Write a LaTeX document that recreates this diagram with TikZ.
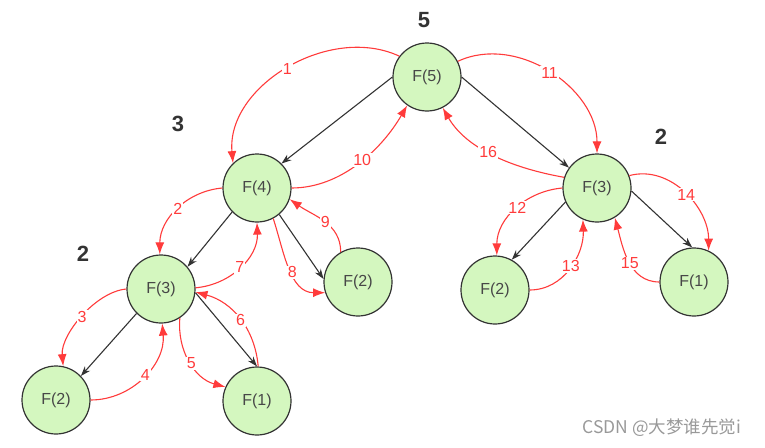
\documentclass[tikz,border=0pt]{standalone}
\usepackage{fontspec}
\setmainfont{Liberation Sans}
\newfontfamily\cjk{Noto Sans CJK SC}
\usetikzlibrary{arrows.meta}
\definecolor{nodefill}{HTML}{D4F7BF}
\definecolor{redline}{HTML}{FF3B3B}
\definecolor{darkline}{HTML}{333333}
\tikzset{
  fnode/.style={circle, draw=darkline, line width=1.2pt, fill=nodefill, minimum size=68pt, inner sep=0pt, font=\fontsize{16}{16}\selectfont, text=darkline!90},
  callarrow/.style={draw=darkline, line width=1.1pt, -{Stealth[length=10pt,width=7pt]}},
  steparrow/.style={draw=redline, line width=1.1pt, -{Latex[length=12pt,width=9pt]}},
  steplabel/.style={fill=white, text=redline, inner sep=1pt, font=\fontsize{16}{16}\selectfont},
  biglabel/.style={text=darkline, font=\fontsize{22}{22}\selectfont\bfseries},
}
\begin{document}
\begin{tikzpicture}[x=1pt,y=-1pt]
\useasboundingbox (0,0) rectangle (765,447);
\node[fnode] (f5) at (427,77) {F(5)};
\node[fnode] (f4) at (257,188) {F(4)};
\node[fnode] (f3r) at (597,188) {F(3)};
\node[fnode] (f3l) at (161,289) {F(3)};
\node[fnode] (f2m) at (358,282) {F(2)};
\node[fnode] (f2r) at (495,290) {F(2)};
\node[fnode] (f1r) at (694,282) {F(1)};
\node[fnode] (f2bl) at (56,400) {F(2)};
\node[fnode] (f1b) at (257,401) {F(1)};

\node[biglabel] (l5) at (424,20) {5};
\node[biglabel] (l3) at (178,124) {3};
\node[biglabel] (l2r) at (661,137) {2};
\node[biglabel] (l2l) at (83,254) {2};

\node[text=black!40, font=\cjk\fontsize{17.5}{17.5}\selectfont] (wm) at (662,428) {CSDN @大梦谁先觉i};

% call arrows
\draw[callarrow] (f5.180) -- (f4.45);
\draw[callarrow] (f5.0) -- (f3r.144);
\draw[callarrow] (f4.224) -- (f3l.40);
\draw[callarrow] (f4.-50) -- (f2m.175);
\draw[callarrow] (f3l.225) -- (f2bl.44);
\draw[callarrow] (f3l.-6) -- (f1b.90);
\draw[callarrow] (f3r.204) -- (f2r.61);
\draw[callarrow] (f3r.-5) -- (f1r.93);

% step arrows
\draw[steparrow] (f5.143) to[out=155,in=95] node[steplabel, pos=0.5] {1} (f4.134);
\draw[steparrow] (f4.180) to[out=185,in=90] node[steplabel, pos=0.5] {2} (f3l.92);
\draw[steparrow] (f3l.180) to[out=185,in=95,looseness=0.8] node[steplabel, pos=0.5] {3} (f2bl.78);
\draw[steparrow] (f2bl.0) to[out=0,in=-85] node[steplabel, pos=0.53] {4} (f3l.-88);
\draw[steparrow] (f3l.-57) to[out=-95,in=165] node[steplabel, pos=0.53] {5} (f1b.156);
\draw[steparrow] (f1b.88) to[out=95,in=-15] node[steplabel, pos=0.48] {6} (f3l.-5);
\draw[steparrow] (f3l.2) to[out=5,in=-88] node[steplabel, pos=0.5] {7} (f4.-90);
\draw[steparrow] (f4.-62) to[out=-72,in=180] node[steplabel, pos=0.55] {8} (f2m.198);
\draw[steparrow] (f2m.120) to[out=90,in=-35] node[steplabel, pos=0.48] {9} (f4.-19);
\draw[steparrow] (f4.0) to[out=0,in=-120,looseness=0.9] node[steplabel, pos=0.53] {10} (f5.-125);
\draw[steparrow] (f5.27) to[out=25,in=90] node[steplabel, pos=0.5] {11} (f3r.90);
\draw[steparrow] (f3r.180) to[out=185,in=90] node[steplabel, pos=0.48] {12} (f2r.87);
\draw[steparrow] (f2r.0) to[out=0,in=-88] node[steplabel, pos=0.52] {13} (f3r.-114);
\draw[steparrow] (f3r.21) to[out=15,in=90] node[steplabel, pos=0.52] {14} (f1r.65);
\draw[steparrow] (f1r.180) to[out=180,in=-75] node[steplabel, pos=0.47] {15} (f3r.-59);
\draw[steparrow] (f3r.162) to[out=170,in=-60,looseness=0.9] node[steplabel, pos=0.55] {16} (f5.-63);
\end{tikzpicture}
\end{document}
